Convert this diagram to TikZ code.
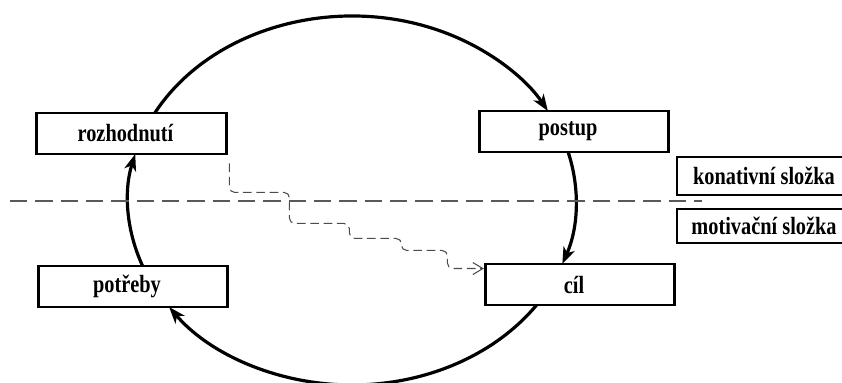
\documentclass[tikz,border=0pt]{standalone}
\usepackage{fontspec}
\newfontfamily\lblfont[FakeStretch=0.82]{Liberation Serif}
\usetikzlibrary{arrows.meta}
\pgfdeclarelayer{background}
\pgfsetlayers{background,main}

\begin{document}
\begin{tikzpicture}[x=0.75pt,y=0.75pt,
  lbl/.style={font=\lblfont\bfseries\fontsize{18.6}{20}\selectfont},
  box/.style={lbl, draw, line width=2.2pt, fill=white, minimum width=142pt,
    minimum height=30.75pt, inner sep=0pt, execute at end node={\hspace*{9pt}}},
  tag/.style={lbl, draw, line width=1.5pt, fill=white, anchor=west,
    minimum width=130.5pt, inner sep=0pt},
  loopline/.style={line width=2.4pt, -{Stealth[length=12.5pt,width=9pt,inset=3.5pt]}},
  stair/.style={draw=black!70, line width=0.8pt, dash pattern=on 6.5pt off 3.5pt,
    rounded corners=4pt, -{Straight Barb[length=7.5pt,width=9pt]}},
  divider/.style={draw=black!65, line width=1.5pt, dash pattern=on 13pt off 6pt}]

\useasboundingbox (0,0) rectangle (842,382);

% centre of the cycle ellipse (radii 168pt x 138.375pt)
\coordinate (E) at (352,181.5);

% boxes of the cycle
\node[box] (roz) at (131.5,248.5) {rozhodnutí};
\node[box] (postup) at (574,250.5) {postup};
\node[box] (potreby) at (133,95.5) {potřeby};
\node[box] (cil) at (580,97.5) {cíl};

% component labels
\node[tag, minimum height=28.5pt] (kon) at (676,206) {konativní složka};
\node[tag, minimum height=25.5pt] (mot) at (676,156) {motivační složka};

% divider between the two components
\coordinate (divL) at (10,181);
\coordinate (divR) at (702,181);
\draw[divider] (divL) -- (divR);

% points where the ellipse leaves the boxes
\coordinate (rozT) at ([shift={(151.7:168pt and 138.375pt)}]E);
\coordinate (posB) at ([shift={(15.24:168pt and 138.375pt)}]E);
\coordinate (cilB) at ([shift={(-34.5:168pt and 138.375pt)}]E);
\coordinate (potT) at ([shift={(-159.2:168pt and 138.375pt)}]E);

% the cycle: rozhodnutí -> postup -> cíl -> potřeby -> rozhodnutí
\begin{pgfonlayer}{background}
\draw[loopline] (rozT) arc[start angle=151.7, end angle=29.0, x radius=168pt, y radius=138.375pt];
\draw[loopline] (posB) arc[start angle=15.24, end angle=-20.13, x radius=168pt, y radius=138.375pt];
\draw[loopline] (cilB) arc[start angle=-34.5, end angle=-144.74, x radius=168pt, y radius=138.375pt];
\draw[loopline] (potT) arc[start angle=-159.2, end angle=-194.6, x radius=168pt, y radius=138.375pt];
\end{pgfonlayer}

% stepped link from rozhodnutí down to cíl
\draw[stair] ([xshift=1.35pt,yshift=-6pt]roz.south east)
  |- ++(60,-29) |- ++(60,-31) |- ++(52,-15) |- ++(46,-12)
  |- ([yshift=-4.5pt]cil.north west);
\end{tikzpicture}
\end{document}
